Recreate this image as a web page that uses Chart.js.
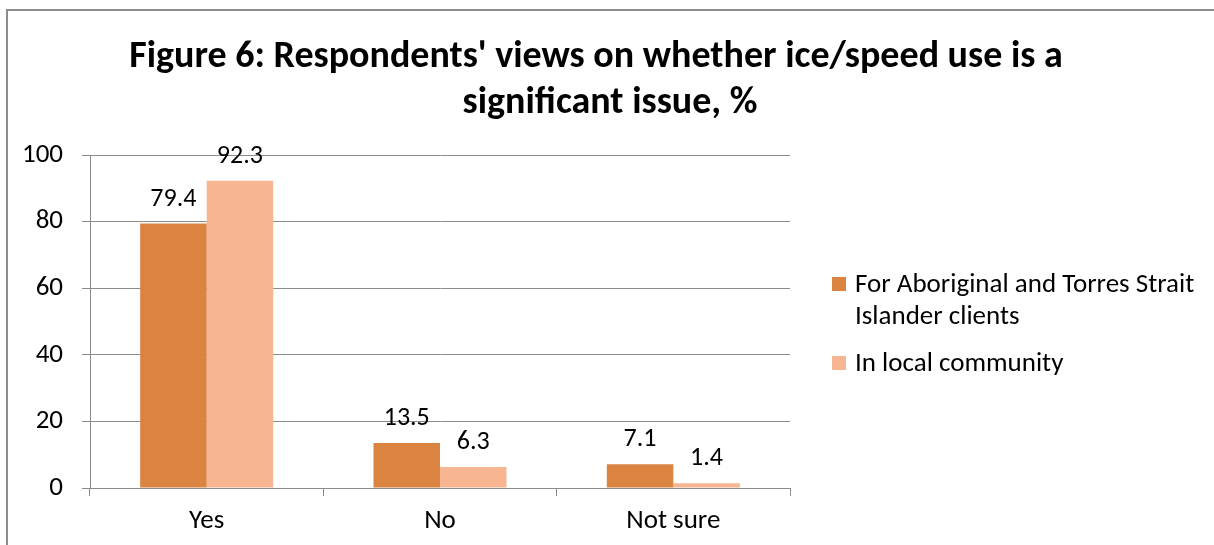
<!DOCTYPE html>
<html lang="en">
<head>
    <meta charset="UTF-8">
    <title>Figure 6 - Ice/speed use</title>
    <script src="https://cdn.jsdelivr.net/npm/chart.js"></script>
    <style>
        html, body { margin: 0; padding: 0; background: #fff; }
        #wrap { position: relative; width: 1214px; height: 545px; overflow: hidden; }
        #frame {
            position: absolute; left: 6px; top: 9px; width: 1300px; height: 600px;
            border-left: 2px solid #8c8c8c; border-top: 2px solid #8c8c8c;
        }
        canvas { position: absolute; left: 0; top: 0; }
    </style>
</head>
<body>
<div id="wrap">
    <div id="frame"></div>
    <canvas id="chart" width="1214" height="545"></canvas>
</div>

<script>
    const categories = ['Yes', 'No', 'Not sure'];
    const clientsValues = [79.4, 13.5, 7.1];
    const communityValues = [92.3, 6.3, 1.4];
    const seriesNames = ['For Aboriginal and Torres Strait|Islander clients', 'In local community'];
    const yTicks = [0, 20, 40, 60, 80, 100];
    const titleLines = ["Figure 6: Respondents' views on whether ice/speed use is a", 'significant issue, %'];

    const FONT = 'Carlito, "Open Sans", sans-serif';
    const GRID = '#8c8c8c';

    // title is centred on the whole canvas, not just the plot area
    const pageTitle = {
        id: 'pageTitle',
        afterDraw(chart) {
            const ctx = chart.ctx;
            ctx.save();
            ctx.font = 'bold 38px ' + FONT;
            ctx.fillStyle = '#000';
            ctx.textAlign = 'center';
            ctx.textBaseline = 'alphabetic';
            ctx.fillText(titleLines[0], 596, 67);
            ctx.fillText(titleLines[1], 610, 113);
            ctx.restore();
        }
    };

    // value labels above each bar
    const valueLabels = {
        id: 'valueLabels',
        afterDatasetsDraw(chart) {
            const ctx = chart.ctx;
            ctx.save();
            ctx.font = '26px ' + FONT;
            ctx.fillStyle = '#000';
            ctx.textAlign = 'center';
            ctx.textBaseline = 'alphabetic';
            chart.data.datasets.forEach((ds, i) => {
                chart.getDatasetMeta(i).data.forEach((bar, j) => {
                    ctx.fillText(ds.data[j].toFixed(1), bar.x, bar.y - 18);
                });
            });
            ctx.restore();
        }
    };

    // legend on the right, with the long name split over two lines
    const sideLegend = {
        id: 'sideLegend',
        afterDraw(chart) {
            const ctx = chart.ctx;
            ctx.save();
            ctx.font = '27px ' + FONT;
            ctx.textBaseline = 'alphabetic';
            const baselines = [292, 371];
            chart.data.datasets.forEach((ds, i) => {
                const y = baselines[i];
                ctx.fillStyle = ds.backgroundColor;
                ctx.fillRect(832, y - 15, 14, 14);
                ctx.fillStyle = '#000';
                ds.label.split('|').forEach((line, k) => {
                    ctx.fillText(line, 855, y + k * 32);
                });
            });
            ctx.restore();
        }
    };

    new Chart(document.getElementById('chart'), {
        type: 'bar',
        data: {
            labels: categories,
            datasets: [
                { label: seriesNames[0], data: clientsValues, backgroundColor: '#DB8441' },
                { label: seriesNames[1], data: communityValues, backgroundColor: '#F8B592' }
            ]
        },
        options: {
            responsive: false,
            animation: false,
            devicePixelRatio: 1,
            layout: { padding: { left: 0, right: 424, top: 155, bottom: 0 } },
            datasets: { bar: { categoryPercentage: 0.57, barPercentage: 1.0 } },
            plugins: {
                legend: { display: false },
                tooltip: { enabled: false },
                title: { display: false }
            },
            scales: {
                x: {
                    afterFit(scale) { scale.height = 57; },
                    grid: { offset: true, drawOnChartArea: false, drawTicks: true, tickLength: 8, color: GRID },
                    border: { color: GRID, width: 1 },
                    ticks: { color: '#000', font: { family: FONT, size: 27 }, padding: 9 }
                },
                y: {
                    min: 0,
                    max: 100,
                    afterFit(scale) { scale.width = 90; },
                    afterBuildTicks(scale) { scale.ticks = yTicks.map(v => ({ value: v })); },
                    grid: { color: GRID, tickLength: 8 },
                    border: { color: GRID, width: 1 },
                    ticks: { color: '#000', font: { family: FONT, size: 27 }, padding: 19 }
                }
            }
        },
        plugins: [valueLabels, sideLegend, pageTitle]
    });
</script>
</body>
</html>
